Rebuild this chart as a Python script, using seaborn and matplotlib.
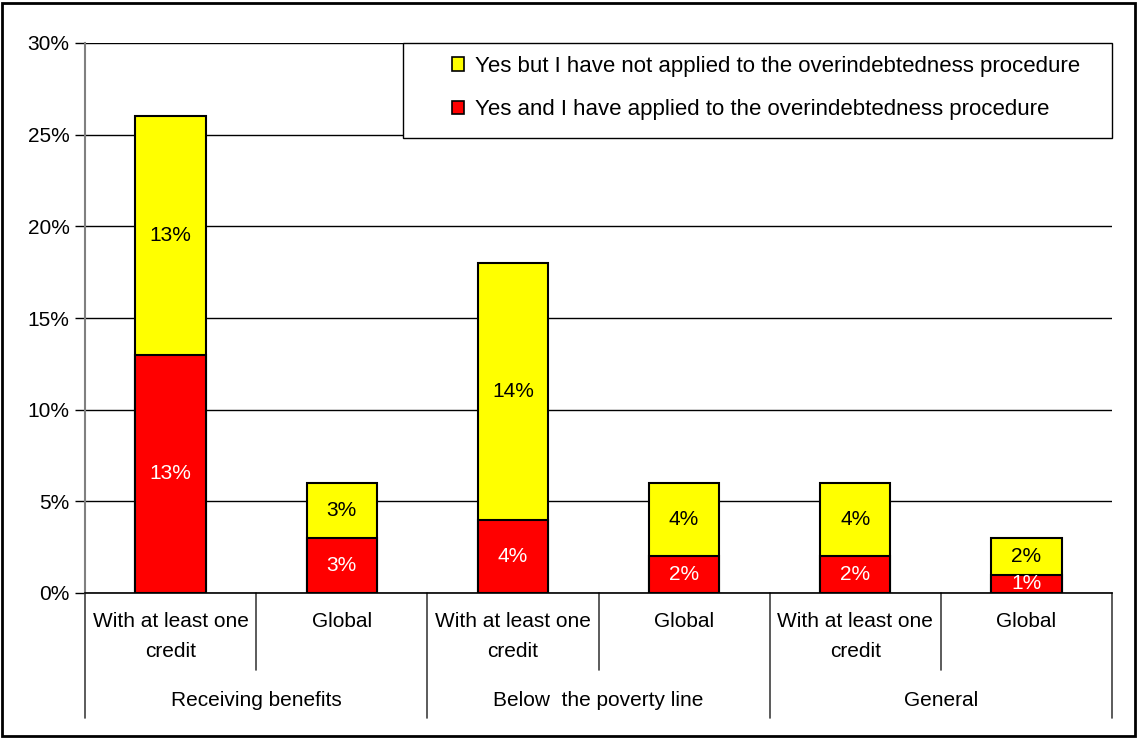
import matplotlib
matplotlib.use("Agg")
import matplotlib.pyplot as plt
import matplotlib.transforms as mtransforms
from matplotlib.patches import Rectangle, Patch
from matplotlib.ticker import PercentFormatter
import seaborn as sns
import pandas as pd

groups = ["Receiving benefits", "Below  the poverty line", "General"]
subgroups = ["With at least one\ncredit", "Global"]
applied = [13, 3, 4, 2, 2, 1]          # Yes and I have applied
not_applied = [13, 3, 14, 4, 4, 2]     # Yes but I have not applied
legend_labels = ["Yes but I have not applied to the overindebtedness procedure",
                 "Yes and I have applied to the overindebtedness procedure"]
yticks = [0, 5, 10, 15, 20, 25, 30]

sns.set_theme(style="white")
plt.rcParams["font.family"] = ["Liberation Sans", "DejaVu Sans"]
plt.rcParams.update({"text.color": "black", "axes.labelcolor": "black",
                     "xtick.color": "black", "ytick.color": "black"})
FS = 15

keys = [f"{g}|{s}" for g in groups for s in subgroups]
df = pd.DataFrame({
    "key": keys,
    "applied": applied,
    "not_applied": not_applied,
})
df["total"] = df["applied"] + df["not_applied"]

W, H = 1137, 738
fig = plt.figure(figsize=(W / 100, H / 100), dpi=100)
x0, x1, ytop, ybot = 85, 1112, 43, 593
ax = fig.add_axes([x0 / W, 1 - ybot / H, (x1 - x0) / W, (ybot - ytop) / H])
ph = ybot - ytop


def ay(py):
    """Axes-fraction y for a pixel row."""
    return (ybot - py) / ph


def ax_x(px):
    return (px - x0) / (x1 - x0)


yellow, red = "#FFFF00", "#FF0000"
sns.barplot(data=df, x="key", y="total", order=keys, color=yellow,
            width=0.41, edgecolor="black", linewidth=1.5, saturation=1, ax=ax, zorder=3)
sns.barplot(data=df, x="key", y="applied", order=keys, color=red,
            width=0.41, edgecolor="black", linewidth=1.5, saturation=1, ax=ax, zorder=4)

for i, (a, n) in enumerate(zip(applied, not_applied)):
    ax.text(i, a + n / 2, f"{n}%", ha="center", va="center", fontsize=FS, color="black", zorder=5)
    ax.text(i, a / 2, f"{a}%", ha="center", va="center", fontsize=FS, color="white", zorder=5)

ax.set_xlim(-0.5, len(keys) - 0.5)
ax.set_ylim(0, 30)
ax.set_yticks(yticks)
ax.yaxis.set_major_formatter(PercentFormatter(decimals=0))
ax.tick_params(axis="y", labelsize=FS, length=7, width=1, color="black",
               labelcolor="black", left=True, pad=4)
ax.set_xticks([])
ax.set_xlabel("")
ax.set_ylabel("")
ax.grid(axis="y", color="black", linewidth=1, zorder=0)
ax.set_axisbelow(True)
for side in ["top", "right"]:
    ax.spines[side].set_visible(False)
ax.spines["left"].set_color("#808080")
ax.spines["left"].set_linewidth(1.5)
ax.spines["bottom"].set_color("black")
ax.spines["bottom"].set_linewidth(1.2)
ax.spines["bottom"].set_zorder(6)

# Two-level category axis below the plot
trans = mtransforms.blended_transform_factory(ax.transData, ax.transAxes)
for i in range(len(keys) + 1):
    x = i - 0.5
    y_end = ay(718) if i % 2 == 0 else ay(670)
    ax.plot([x, x], [0, y_end], transform=trans, color="#404040", lw=1.2, clip_on=False)
for i, k in enumerate(keys):
    sub = k.split("|")[1]
    ax.text(i, ay(612), sub, transform=trans, ha="center", va="top",
            fontsize=FS, linespacing=1.75, color="black")
for gi, g in enumerate(groups):
    ax.text(gi * 2 + 0.5, ay(701), g, transform=trans, ha="center", va="center",
            fontsize=FS, color="black")

# Legend inside a fixed box at the top right
ax.add_patch(Rectangle((ax_x(403), ay(138)), ax_x(x1) - ax_x(403), ay(43) - ay(138),
                       transform=ax.transAxes, facecolor="white", edgecolor="black",
                       linewidth=1.0, zorder=9, clip_on=False))
handles = [Patch(facecolor=yellow, edgecolor="black", linewidth=1.2),
           Patch(facecolor=red, edgecolor="black", linewidth=1.2)]
leg = ax.legend(handles, legend_labels, loc="center left",
                bbox_to_anchor=(ax_x(452), ay(88)),
                fontsize=FS + 1, frameon=False, labelcolor="black",
                handlelength=0.55, handleheight=0.55,
                handletextpad=0.5, labelspacing=1.02, borderpad=0, borderaxespad=0)
leg.set_zorder(10)

fig.patches.append(Rectangle((0.002, 0.003), 0.996, 0.993, transform=fig.transFigure,
                             fill=False, edgecolor="black", linewidth=2))

fig.savefig("out.png", dpi=100)
